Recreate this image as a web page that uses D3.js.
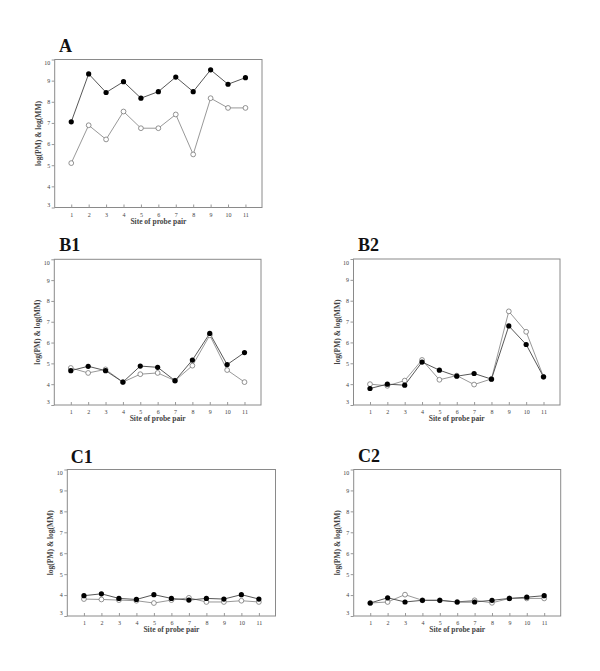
<!DOCTYPE html>
<html><head><meta charset="utf-8">
<script src="https://cdn.jsdelivr.net/npm/d3@7"></script>
<style>
body{margin:0;background:#fff;}
svg{display:block;}
</style></head>
<body>
<svg id="chart" width="600" height="671"></svg>
<script>
// ---- data ----
const sites = [1,2,3,4,5,6,7,8,9,10,11];
const yTicks = [3,4,5,6,7,8,9,10];
const panelNames = ["A","B1","B2","C1","C2"];
const xLabel = "Site of probe pair";
const yLabel = "log(PM) & log(MM)";

const aPM  = [7.05,9.32,8.44,8.95,8.17,8.48,9.17,8.48,9.51,8.83,9.14];
const aMM  = [5.10,6.89,6.22,7.54,6.75,6.75,7.40,5.51,8.17,7.71,7.71];
const b1PM = [4.65,4.86,4.65,4.10,4.87,4.81,4.17,5.16,6.44,4.94,5.52];
const b1MM = [4.78,4.54,4.71,4.10,4.48,4.54,4.17,4.89,6.35,4.68,4.10];
const b2PM = [3.79,4.00,3.95,5.06,4.67,4.38,4.51,4.24,6.79,5.90,4.35];
const b2MM = [4.00,3.92,4.17,5.16,4.21,4.41,3.98,4.25,7.49,6.51,4.35];
const c1PM = [3.97,4.06,3.84,3.79,4.02,3.84,3.76,3.84,3.81,4.02,3.81];
const c1MM = [3.81,3.79,3.76,3.73,3.62,3.76,3.87,3.67,3.67,3.73,3.67];
const c2PM = [3.62,3.87,3.67,3.75,3.75,3.67,3.67,3.75,3.84,3.90,3.97];
const c2MM = [3.62,3.67,4.02,3.75,3.75,3.67,3.75,3.63,3.84,3.84,3.84];

const seriesPM = [aPM,b1PM,b2PM,c1PM,c2PM];
const seriesMM = [aMM,b1MM,b2MM,c1MM,c2MM];

// ---- layout (box positions in px) ----
const boxes = [
  {l:54.7, r:262,   t:59.5,  b:207.5, tx:59,   ty:51.7},
  {l:54.3, r:261,   t:259.3, b:405,   tx:59.3, ty:250.7},
  {l:353.5,r:560,   t:259,   b:405,   tx:358,  ty:250.7},
  {l:67.3, r:275.5, t:469.5, b:616,   tx:70.7, ty:462.7},
  {l:353.7,r:560.7, t:469.5, b:616,   tx:358,  ty:462.3}
];

const svg = d3.select("#chart");
const serif = "Liberation Serif, Times New Roman, DejaVu Serif, serif";

boxes.forEach((bx,i)=>{
  const x = d3.scaleLinear().domain([0.05,11.95]).range([bx.l,bx.r]);
  const y = d3.scaleLinear().domain([3,10]).range([bx.b,bx.t]);
  const g = svg.append("g");

  // title
  g.append("text").attr("x",bx.tx).attr("y",bx.ty)
    .style("font-family",serif).style("font-size","18px").style("font-weight","bold")
    .attr("fill","#111").text(panelNames[i]);

  // box
  g.append("rect").attr("x",bx.l).attr("y",bx.t)
    .attr("width",bx.r-bx.l).attr("height",bx.b-bx.t)
    .attr("fill","none").attr("stroke","#8a8a8a").attr("stroke-width",1);

  // y axis
  const ya = g.append("g").attr("transform",`translate(${bx.l},0)`)
    .call(d3.axisLeft(y).tickValues(yTicks).tickSize(3).tickPadding(1.5).tickFormat(d3.format("d")));
  ya.select(".domain").remove();
  ya.selectAll("line").attr("stroke","#999");
  ya.selectAll("text").style("font-family",serif).style("font-size","6px").attr("fill","#444")
    .attr("dy", d => d===10 ? "0.9em" : d===3 ? "-0.2em" : "0.32em");

  // x axis
  const xa = g.append("g").attr("transform",`translate(0,${bx.b})`)
    .call(d3.axisBottom(x).tickValues(sites).tickSize(-3).tickPadding(5).tickFormat(d3.format("d")));
  xa.select(".domain").remove();
  xa.selectAll("line").attr("stroke","#999");
  xa.selectAll("text").style("font-family",serif).style("font-size","6px").attr("fill","#444");

  // axis labels
  g.append("text").attr("x",(bx.l+bx.r)/2).attr("y",bx.b+16)
    .attr("text-anchor","middle").style("font-family",serif).style("font-size","7.5px")
    .style("font-weight","bold").attr("fill","#444").text(xLabel);
  g.append("text")
    .attr("transform",`translate(${bx.l-14},${(bx.t+bx.b)/2}) rotate(-90)`)
    .attr("text-anchor","middle").style("font-family",serif).style("font-size","7.5px")
    .style("font-weight","bold").attr("fill","#444").text(yLabel);

  const line = d3.line().x((d,k)=>x(sites[k])).y(d=>y(d));

  // MM (open)
  g.append("path").datum(seriesMM[i]).attr("d",line)
    .attr("fill","none").attr("stroke","#8c8c8c").attr("stroke-width",0.9);
  // PM (filled)
  g.append("path").datum(seriesPM[i]).attr("d",line)
    .attr("fill","none").attr("stroke","#444").attr("stroke-width",0.9);

  g.selectAll(".mm").data(seriesMM[i]).join("circle")
    .attr("cx",(d,k)=>x(sites[k])).attr("cy",d=>y(d)).attr("r",2.4)
    .attr("fill","#fff").attr("stroke","#777").attr("stroke-width",0.8);
  g.selectAll(".pm").data(seriesPM[i]).join("circle")
    .attr("cx",(d,k)=>x(sites[k])).attr("cy",d=>y(d)).attr("r",2.6)
    .attr("fill","#000");
});
</script>
</body></html>
